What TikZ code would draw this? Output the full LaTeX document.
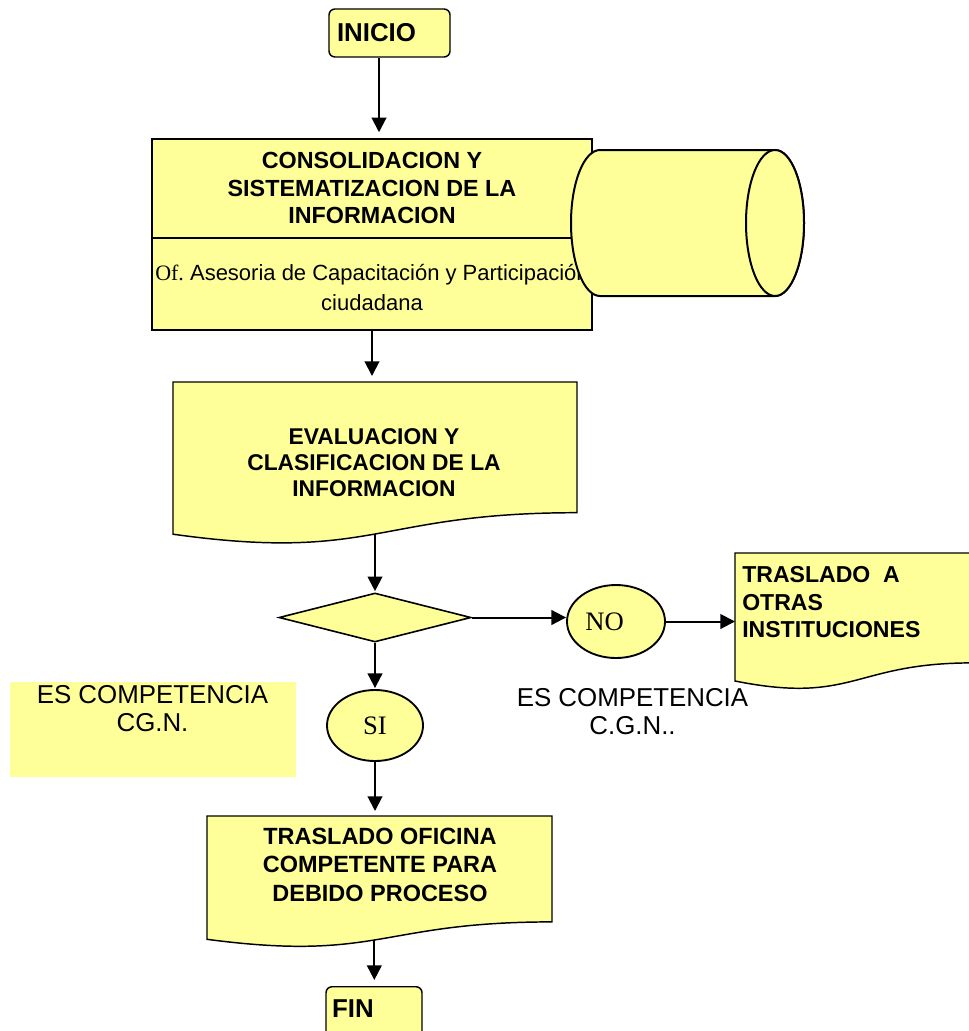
\documentclass[tikz,border=0pt]{standalone}
\usepackage{fontspec}
\setmainfont{Liberation Sans}
\newfontfamily\timesfont{Liberation Serif}
\usetikzlibrary{arrows.meta,shapes.geometric}
\frenchspacing
\newdimen\upx \upx=0.75pt
\definecolor{paleyellow}{RGB}{255,255,153}
\tikzset{
  boxline/.style={draw=black, line width=1.1pt, fill=paleyellow},
  arr/.style={line width=1.5pt, -{Triangle[length=11pt,width=11pt]}},
  boldtext/.style={font=\bfseries\fontsize{17.5pt}{20.6pt}\selectfont, align=center, inner sep=0pt},
  plaintext/.style={font=\fontsize{19.4pt}{21pt}\selectfont, align=center, inner sep=0pt},
  answer/.style={ellipse, draw=black, line width=1.4pt, fill=paleyellow, inner sep=0pt,
    font=\timesfont\fontsize{20pt}{22pt}\selectfont},
  terminal/.style={boxline, rounded corners=4.5pt, inner ysep=0pt, align=left,
    font=\bfseries\fontsize{19.4pt}{22pt}\selectfont},
}
\begin{document}
\begin{tikzpicture}[x=0.75pt,y=-0.75pt]
\useasboundingbox (0,0) rectangle (969,1031);

% start
\node[terminal, minimum width=121\upx, minimum height=48\upx, inner xsep=8\upx,
  text width=105\upx] (inicio) at (389.5,33) {INICIO};

% consolidation box with its responsible office
\node[boxline, minimum width=440\upx, minimum height=191\upx, inner sep=0pt] (cons) at (372,234.5) {};
\draw[line width=1.1pt] ([yshift=-3.5\upx]cons.west) -- ([yshift=-3.5\upx]cons.east);
\node[boldtext] (constitle) at (372,188) {CONSOLIDACION Y\\SISTEMATIZACION DE LA\\INFORMACION};
\node[align=center, inner sep=0pt, font=\fontsize{16.5pt}{22.5pt}\selectfont] (consunit) at (372,287.5)
  {{\timesfont Of.}\ Asesoria de Capacitación y Participación\\ciudadana};

% stored data cylinder
\draw[line width=1.5pt, fill=paleyellow] (600,150) -- (775,150)
  arc[start angle=-90, end angle=90, x radius=29, y radius=73] -- (600,296)
  arc[start angle=90, end angle=270, x radius=29, y radius=73] -- cycle;
\draw[line width=1.5pt, fill=paleyellow] (775,223) ellipse [x radius=29, y radius=73];

% evaluation document
\draw[boxline] (173,382) -- (577,382) -- (577,512.7)
  .. controls (375,512.7) and (375,562.4) .. coordinate[pos=0.5] (evalbot) (173,534.2) -- cycle;
\coordinate (evaltop) at (375,382);
\node[boldtext, font=\bfseries\fontsize{17.1pt}{19.5pt}\selectfont] (evaltext) at (374,462.5)
  {EVALUACION Y\\CLASIFICACION DE LA\\INFORMACION};

% decision
\node[diamond, draw=black, line width=1.2pt, fill=paleyellow, inner sep=0pt,
  minimum width=192\upx, minimum height=49\upx] (dia) at (375,617.5) {};

% negative branch
\node[answer, minimum width=98\upx, minimum height=73\upx] (no) at (616,621.5) {};
\node[inner sep=0pt, font=\timesfont\fontsize{20pt}{22pt}\selectfont] (notext) at (604.5,622) {NO};

\draw[boxline] (735,553) -- (972,553) -- (972,662.9)
  .. controls (853.5,662.9) and (853.5,704.7) .. (735,681) -- cycle;
\coordinate (otrasW) at (735,621.5);
\node[boldtext, align=left, anchor=west, font=\bfseries\fontsize{17.3pt}{20.6pt}\selectfont] (otrastext)
  at (742,602.5) {TRASLADO\ \ A\\OTRAS\\INSTITUCIONES};

\node[plaintext] (esno) at (632.5,712) {ES COMPETENCIA\\C.G.N..};

% positive branch
\fill[paleyellow] (10,682) rectangle (296,777);
\node[plaintext] (essi) at (152.5,709) {ES COMPETENCIA\\CG.N.};

\node[answer, minimum width=96\upx, minimum height=71\upx] (si) at (375,725.5) {SI};

\draw[boxline] (207,816) -- (552,816) -- (552,921.9)
  .. controls (379.5,921.9) and (379.5,962.1) .. coordinate[pos=0.52] (ofibot) (207,939.3) -- cycle;
\coordinate (ofitop) at (375,816);
\node[boldtext, font=\bfseries\fontsize{17.6pt}{21.4pt}\selectfont] (ofitext) at (380,864.5)
  {TRASLADO OFICINA\\COMPETENTE PARA\\DEBIDO PROCESO};

% end
\node[terminal, anchor=north, minimum width=96\upx, inner xsep=6\upx, text width=84\upx,
  inner ysep=13\upx, text height=18\upx, text depth=12\upx] (fin) at (374,986) {FIN};

% connectors
\draw[arr, shorten >=6\upx] ([xshift=-10.5\upx]inicio.south) -- ([xshift=7\upx]cons.north);
\draw[arr, shorten >=6\upx] (cons.south) -- (cons.south |- evaltop);
\draw[arr, shorten >=1\upx] (evalbot) -- (evalbot |- dia.north);
\draw[arr] (dia.east) -- (dia.east -| no.west);
\draw[arr] (no.east) -- (otrasW);
\draw[arr, shorten >=1\upx] (dia.south) -- (si.north);
\draw[arr, shorten >=5\upx] (si.south) -- (ofitop);
\draw[arr, shorten >=6\upx] (ofibot) -- (ofibot |- fin.north);
\end{tikzpicture}
\end{document}
